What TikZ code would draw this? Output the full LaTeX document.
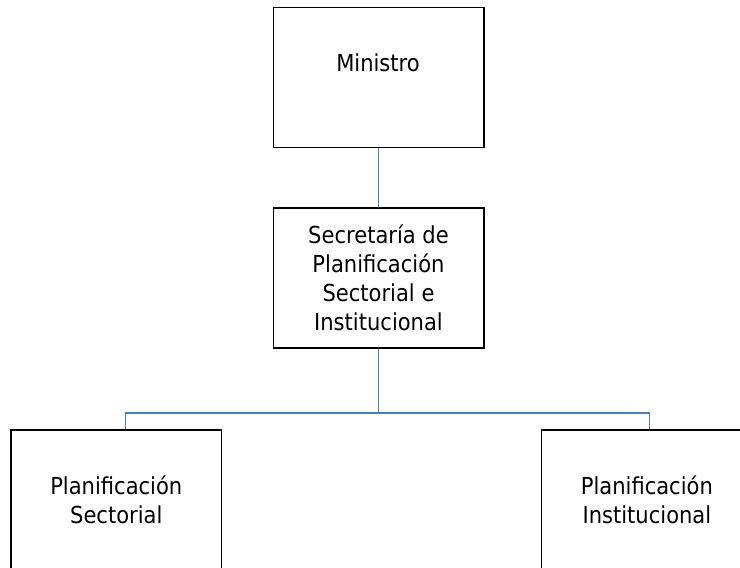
\documentclass[tikz,border=0pt]{standalone}
\usepackage{fontspec}
\setmainfont{DejaVu Sans Condensed}
\usetikzlibrary{positioning}
\definecolor{linkblue}{HTML}{4A7EBB}

\begin{document}
\begin{tikzpicture}[x=0.5pt, y=-0.5pt, thick,
			main node/.style={rectangle,draw=black,line width=0.7pt,minimum width=105.3pt,minimum height=70pt,inner sep=0pt,align=center,font=\fontsize{11.7}{14.5}\selectfont},
			link/.style={draw=linkblue,line width=0.6pt}]
			\useasboundingbox (0,0) rectangle (740,568);
			
			\node[main node] (1) at (378.5,77.5) {};
			\node[font=\fontsize{11.7}{14.5}\selectfont] (1t) at (378,63) {Ministro};
			\node[main node] (2) at (378.5,278) {Secretaría de\\Planificación\\Sectorial e\\Institucional};
			\node[main node] (3) at (116.3,500) {Planificación\\Sectorial};
			\node[main node] (4) at (646.9,500) {Planificación\\Institucional};
			\coordinate (b) at (378.5,413);
			
			\path[link] (1) -- (2);
			\path[link] (2) -- (b) -| ([xshift=4.5pt]3.north);
			\path[link] (b) -| ([xshift=1.2pt]4.north);
			\end{tikzpicture}
\end{document}
